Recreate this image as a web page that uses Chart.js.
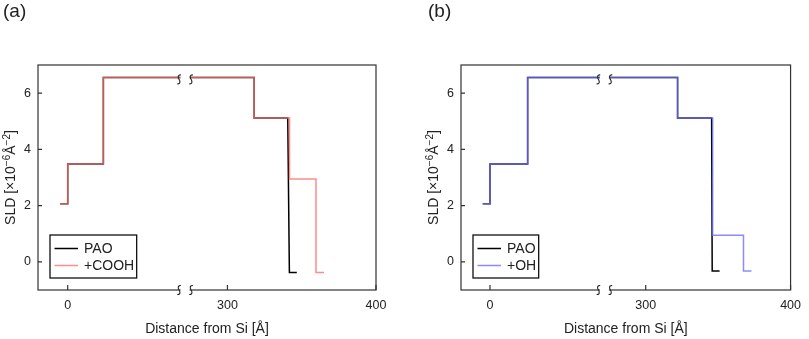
<!DOCTYPE html>
<html>
<head>
<meta charset="utf-8">
<script src="https://cdn.jsdelivr.net/npm/chart.js@4.4.0/dist/chart.umd.min.js"></script>
<style>
  html, body { margin: 0; padding: 0; background: #fff; }
  #wrap { position: relative; width: 809px; height: 339px; font-family: 'Liberation Sans', Arial, sans-serif; }
  canvas { position: absolute; top: 0; }
  .tag { position: absolute; top: -1px; font-size: 19px; line-height: 24px; color: #222; }
</style>
</head>
<body>
<div id="wrap">
  <canvas id="chartA" width="400" height="339" style="left:0"></canvas>
  <canvas id="chartB" width="409" height="339" style="left:400px"></canvas>
  <div class="tag" style="left:3px">(a)</div>
  <div class="tag" style="left:428px">(b)</div>
</div>
<script>
// Step profiles: distance from Si [Å] and SLD [1e-6 Å^-2]
const yTicks = [0, 2, 4, 6];
const xTickLabels = [0, 300, 400];

// panel (a)
const paoXA = [-5, 0, 0, 24, 24, 318, 318, 340.6, 341.7, 346.7];
const paoYA = [2.07, 2.07, 3.48, 3.48, 6.56, 6.56, 5.12, 5.12, -0.38, -0.38];
const coohX = [-5, 0, 0, 24, 24, 318, 318, 341.8, 341.8, 359.6, 359.6, 365];
const coohY = [2.07, 2.07, 3.48, 3.48, 6.56, 6.56, 5.12, 5.12, 2.95, 2.95, -0.38, -0.38];

// panel (b)
const paoXB = [-5, 0, 0, 26, 26, 322, 322, 345.5, 345.9, 351];
const paoYB = [2.07, 2.07, 3.48, 3.48, 6.56, 6.56, 5.12, 5.12, -0.32, -0.32];
const ohX = [-5, 0, 0, 26, 26, 322, 322, 346.2, 346.2, 367.5, 367.5, 373];
const ohY = [2.07, 2.07, 3.48, 3.48, 6.56, 6.56, 5.12, 5.12, 0.95, 0.95, -0.32, -0.32];

const FONT = "'Liberation Sans', Arial, sans-serif";
const INK = '#222';

// broken x axis: everything below X_BREAK is shifted to sit left of the break
const X_BREAK = 150;
const X_SHIFT = 192.5;
const X_MIN = 172.5, X_MAX = 400;
const BREAK_AT = 271.5;

function toAxis(x) { return x < X_BREAK ? x + X_SHIFT : x; }
function toPoints(xs, ys) { return xs.map(function (x, i) { return { x: toAxis(x), y: ys[i] }; }); }

function squiggle(ctx, x, y) {
  ctx.beginPath();
  ctx.moveTo(x + 1.8, y - 4.5);
  ctx.bezierCurveTo(x - 2.2, y - 4.8, x - 0.6, y - 0.8, x, y);
  ctx.bezierCurveTo(x + 0.6, y + 0.8, x + 2.2, y + 4.8, x - 1.8, y + 4.5);
  ctx.stroke();
}

// plot frame and inward tick marks
const frame = {
  id: 'frame',
  beforeDatasetsDraw: function (chart) {
    const ctx = chart.ctx, a = chart.chartArea;
    const sx = chart.scales.x, sy = chart.scales.y;
    ctx.save();
    ctx.strokeStyle = '#333';
    ctx.lineWidth = 1.2;
    ctx.strokeRect(a.left, a.top, a.right - a.left, a.bottom - a.top);
    ctx.beginPath();
    sx.ticks.forEach(function (t) {
      const x = sx.getPixelForValue(t.value);
      ctx.moveTo(x, a.bottom); ctx.lineTo(x, a.bottom - 5);
    });
    sy.ticks.forEach(function (t) {
      const y = sy.getPixelForValue(t.value);
      ctx.moveTo(a.left, y); ctx.lineTo(a.left + 4, y);
    });
    ctx.stroke();
    ctx.restore();
  }
};

// axis break marks on the plateau and on the bottom axis
const breakMarks = {
  id: 'breakMarks',
  afterDatasetsDraw: function (chart) {
    const ctx = chart.ctx, a = chart.chartArea;
    const cx = chart.scales.x.getPixelForValue(BREAK_AT);
    const top = Math.max.apply(null, chart.data.datasets[0].data.map(function (p) { return p.y; }));
    const yLine = chart.scales.y.getPixelForValue(top);
    ctx.save();
    ctx.fillStyle = '#fff';
    ctx.fillRect(cx - 4.5, a.top + 2, 9, a.bottom - a.top + 2);
    ctx.strokeStyle = INK;
    ctx.lineWidth = 1.1;
    [cx - 6, cx + 6].forEach(function (x) {
      squiggle(ctx, x, yLine + 2);
      squiggle(ctx, x, a.bottom);
    });
    ctx.restore();
  }
};

// y title with real superscripts
const yTitle = {
  id: 'yTitle',
  afterDraw: function (chart) {
    const ctx = chart.ctx, a = chart.chartArea;
    const parts = [['SLD [\u00d710', 14, 0], ['\u22126', 10, -5.5], ['\u00c5', 14, 0], ['\u22122', 10, -5.5], [']', 14, 0]];
    ctx.save();
    ctx.translate(a.left - 28, (a.top + a.bottom) / 2);
    ctx.rotate(-Math.PI / 2);
    ctx.fillStyle = INK;
    ctx.textBaseline = 'alphabetic';
    let total = 0;
    parts.forEach(function (p) { ctx.font = p[1] + 'px ' + FONT; total += ctx.measureText(p[0]).width; });
    let x = -total / 2;
    parts.forEach(function (p) {
      ctx.font = p[1] + 'px ' + FONT;
      ctx.fillText(p[0], x, 5 + p[2]);
      x += ctx.measureText(p[0]).width;
    });
    ctx.restore();
  }
};

// boxed legend in the lower-left corner of the plot
const boxLegend = {
  id: 'boxLegend',
  afterDraw: function (chart) {
    const ctx = chart.ctx, a = chart.chartArea;
    const items = chart.data.datasets;
    ctx.save();
    ctx.font = '14px ' + FONT;
    const textW = Math.max.apply(null, items.map(function (d) { return ctx.measureText(d.label).width; }));
    const w = 34 + textW + 2.5, h = 43;
    const left = a.left + 12, top = a.bottom - 12 - h;
    ctx.fillStyle = '#fff';
    ctx.fillRect(left, top, w, h);
    ctx.strokeStyle = '#111';
    ctx.lineWidth = 1.3;
    ctx.strokeRect(left, top, w, h);
    items.forEach(function (d, i) {
      const y = top + 13.5 + i * 17;
      ctx.strokeStyle = d.borderColor;
      ctx.lineWidth = d.borderWidth;
      ctx.beginPath(); ctx.moveTo(left + 4.5, y); ctx.lineTo(left + 28, y); ctx.stroke();
      ctx.fillStyle = INK;
      ctx.textBaseline = 'middle';
      ctx.fillText(d.label, left + 34, y + 0.5);
    });
    ctx.restore();
  }
};

function makeChart(id, pad, series) {
  return new Chart(document.getElementById(id), {
    type: 'line',
    data: {
      datasets: series.map(function (s) {
        return {
          label: s.label,
          data: toPoints(s.xs, s.ys),
          borderColor: s.color,
          borderWidth: 1.5,
          borderJoinStyle: 'miter',
          pointRadius: 0,
          fill: false,
          order: s.order
        };
      })
    },
    options: {
      responsive: false,
      animation: false,
      layout: { padding: pad },
      plugins: { legend: { display: false }, tooltip: { enabled: false } },
      elements: { line: { tension: 0 } },
      scales: {
        x: {
          type: 'linear', min: X_MIN, max: X_MAX,
          grid: { display: false, drawTicks: false },
          border: { display: false },
          afterBuildTicks: function (s) { s.ticks = xTickLabels.map(function (v) { return { value: toAxis(v) }; }); },
          afterFit: function (s) { s.height = 49; },
          ticks: {
            padding: 8, autoSkip: false, maxRotation: 0, color: INK,
            font: { family: FONT, size: 12.5 },
            callback: function (v, i) { return String(xTickLabels[i]); }
          },
          title: {
            display: true, text: 'Distance from Si [\u00c5]', color: INK,
            font: { family: FONT, size: 14 }, padding: { top: 0, bottom: 1 }
          }
        },
        y: {
          type: 'linear', min: -1, max: 7,
          grid: { display: false, drawTicks: false },
          border: { display: false },
          afterBuildTicks: function (s) { s.ticks = yTicks.map(function (v) { return { value: v }; }); },
          afterFit: function (s) { s.width = 38; },
          ticks: { padding: 7, color: INK, font: { family: FONT, size: 12.5 } }
        }
      }
    },
    plugins: [frame, breakMarks, yTitle, boxLegend]
  });
}

makeChart('chartA', { left: 0, right: 24, top: 65, bottom: 0 }, [
  { label: 'PAO', xs: paoXA, ys: paoYA, color: '#000', order: 1 },
  { label: '+COOH', xs: coohX, ys: coohY, color: 'rgba(255, 110, 110, 0.8)', order: 0 }
]);

makeChart('chartB', { left: 23, right: 11, top: 65, bottom: 0 }, [
  { label: 'PAO', xs: paoXB, ys: paoYB, color: '#000', order: 1 },
  { label: '+OH', xs: ohX, ys: ohY, color: 'rgba(110, 110, 255, 0.8)', order: 0 }
]);
</script>
</body>
</html>
